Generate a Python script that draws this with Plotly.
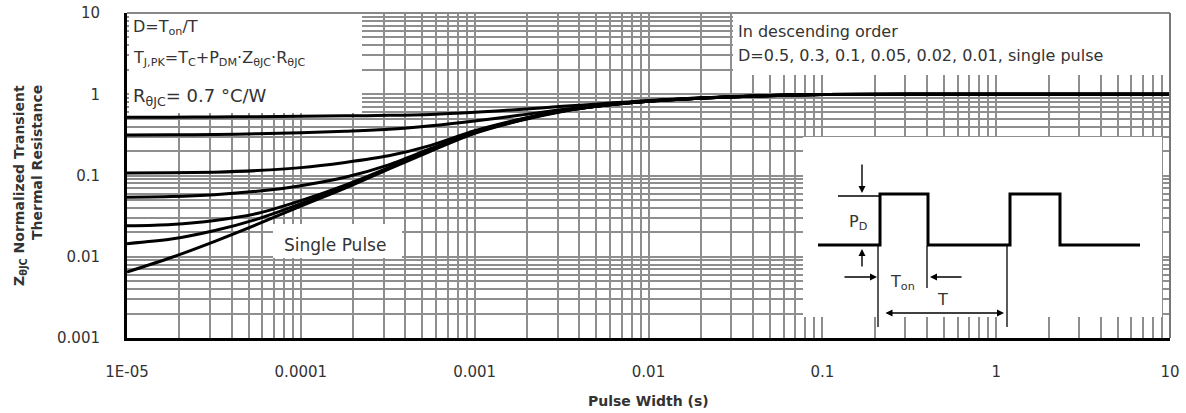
import plotly.graph_objects as go

# ---------------- data ----------------
PULSE_WIDTH = [1e-5, 1.8e-5, 3.2e-5, 5.6e-5, 1e-4, 1.8e-4, 3.2e-4, 5.6e-4, 1e-3,
               1.8e-3, 3.2e-3, 5.6e-3, 1e-2, 3.2e-2, 1e-1, 1, 10]
D_05 = [0.52, 0.522, 0.525, 0.53, 0.535, 0.542, 0.55, 0.565, 0.60,
        0.65, 0.71, 0.77, 0.84, 0.94, 0.99, 1.0, 1.0]
D_03 = [0.315, 0.317, 0.32, 0.326, 0.335, 0.35, 0.37, 0.41, 0.47,
        0.55, 0.65, 0.74, 0.825, 0.935, 0.99, 1.0, 1.0]
D_01 = [0.107, 0.108, 0.11, 0.115, 0.125, 0.145, 0.175, 0.235, 0.355,
        0.49, 0.625, 0.73, 0.82, 0.932, 0.99, 1.0, 1.0]
D_005 = [0.054, 0.055, 0.058, 0.064, 0.075, 0.095, 0.135, 0.215, 0.345,
         0.485, 0.622, 0.73, 0.82, 0.932, 0.99, 1.0, 1.0]
D_002 = [0.024, 0.025, 0.028, 0.034, 0.049, 0.076, 0.125, 0.21, 0.34,
         0.48, 0.62, 0.73, 0.82, 0.93, 0.99, 1.0, 1.0]
D_001 = [0.0145, 0.0165, 0.021, 0.029, 0.045, 0.073, 0.123, 0.205, 0.335,
         0.475, 0.62, 0.73, 0.82, 0.93, 0.99, 1.0, 1.0]
SINGLE = [0.0065, 0.0098, 0.0155, 0.025, 0.042, 0.07, 0.12, 0.2, 0.33,
          0.47, 0.615, 0.73, 0.82, 0.93, 0.99, 1.0, 1.0]
SERIES = {"D=0.5": D_05, "D=0.3": D_03, "D=0.1": D_01, "D=0.05": D_005,
          "D=0.02": D_002, "D=0.01": D_001, "single pulse": SINGLE}

X_TICKS = [1e-5, 1e-4, 1e-3, 1e-2, 1e-1, 1, 10]
X_TICKTEXT = ["1E-05", "0.0001", "0.001", "0.01", "0.1", "1", "10"]
Y_TICKS = [0.001, 0.01, 0.1, 1, 10]
Y_TICKTEXT = ["0.001", "0.01", "0.1", "1", "10"]

# ---------------- layout geometry ----------------
W, H = 1186, 413
L, R, T, B = 127, 16, 13, 75
PW, PH = W - L - R, H - T - B
TXT = "#333333"
FONT = "DejaVu Sans"


def px(x):
    return (x - L) / PW


def py(y):
    return (H - B - y) / PH


fig = go.Figure()
for name, vals in SERIES.items():
    fig.add_trace(go.Scatter(x=PULSE_WIDTH, y=vals, mode="lines", name=name,
                             line=dict(color="black", width=3, shape="spline", smoothing=0.8),
                             showlegend=False))

grid = "#8e8e8e"
fig.update_xaxes(type="log", range=[-5, 1], tickvals=X_TICKS, ticktext=X_TICKTEXT,
                 showgrid=True, gridcolor=grid, gridwidth=1.5, automargin=False,
                 minor=dict(dtick="D1", showgrid=True, gridcolor=grid, gridwidth=1.5, ticks=""),
                 showline=True, linecolor="black", linewidth=3, ticks="",
                 ticklabelstandoff=18, zeroline=False,
                 tickfont=dict(family=FONT, size=15, color=TXT))
fig.update_yaxes(type="log", range=[-3, 1], tickvals=Y_TICKS, ticktext=Y_TICKTEXT,
                 showgrid=True, gridcolor=grid, gridwidth=1.5, automargin=False,
                 minor=dict(dtick="D1", showgrid=True, gridcolor=grid, gridwidth=1.5, ticks=""),
                 showline=True, linecolor="black", linewidth=3, ticks="",
                 ticklabelstandoff=21, zeroline=False,
                 tickfont=dict(family=FONT, size=15, color=TXT))

shapes = []
# white boxes masking the grid
for (x0, y0, x1, y1) in [(129, 14, 362, 113), (733, 14, 1169, 75), (803, 137, 1162, 317),
                         (273, 224, 402, 258)]:
    shapes.append(dict(type="rect", xref="paper", yref="paper", layer="above",
                       x0=px(x0), x1=px(x1), y0=py(y0), y1=py(y1),
                       fillcolor="white", line=dict(width=0)))
# top and right border (thin grey)
shapes.append(dict(type="line", xref="paper", yref="paper", x0=0, x1=1, y0=1, y1=1,
                   line=dict(color="#888", width=2)))
shapes.append(dict(type="line", xref="paper", yref="paper", x0=1, x1=1, y0=0, y1=1,
                   line=dict(color="#777", width=2)))

# inset waveform
wave_x = [818, 880, 880, 928, 928, 1010, 1010, 1060, 1060, 1140]
wave_y = [245, 245, 194, 194, 245, 245, 194, 194, 245, 245]
path = "M " + " L ".join(f"{px(a):.5f},{py(b):.5f}" for a, b in zip(wave_x, wave_y))
shapes.append(dict(type="path", xref="paper", yref="paper", path=path,
                   line=dict(color="black", width=3)))
# thin reference lines of the schematic
for (x0, y0, x1, y1) in [(838, 196, 880, 196), (878, 246, 878, 327), (927, 246, 927, 288),
                         (1007, 246, 1007, 327)]:
    shapes.append(dict(type="line", xref="paper", yref="paper",
                       x0=px(x0), x1=px(x1), y0=py(y0), y1=py(y1),
                       line=dict(color="black", width=1.3)))
fig.update_layout(shapes=shapes)

ann = []


def text(x, y, s, size=15, xanchor="left", bold=False, angle=0, bg=None):
    ann.append(dict(xref="paper", yref="paper", x=px(x), y=py(y), text=f"<b>{s}</b>" if bold else s,
                    showarrow=False, xanchor=xanchor, yanchor="middle", textangle=angle,
                    font=dict(family=FONT, size=size, color=TXT), bgcolor=bg))


def arrow(x, y, ax, ay):
    ann.append(dict(xref="paper", yref="paper", x=px(x), y=py(y), ax=ax, ay=ay, text="",
                    showarrow=True, arrowhead=2, arrowsize=1, arrowwidth=1.4, arrowcolor="black"))


text(131, 28, "D=T<sub>on</sub>/T", size=16)
text(131, 59, "T<sub>J,PK</sub>=T<sub>C</sub>+P<sub>DM</sub>·Z<sub>θJC</sub>·R<sub>θJC</sub>", size=16)
text(131, 97, "R<sub>θJC</sub>= 0.7 °C/W", size=18)
text(736, 32, "In descending order", size=16)
text(736, 55, "D=0.5, 0.3, 0.1, 0.05, 0.02, 0.01, single pulse", size=16)
text(335, 245, "Single Pulse", size=17, xanchor="center")
text(20, 186, "Z<sub>θJC</sub> Normalized Transient", size=14, xanchor="center", bold=True, angle=-90)
text(37, 163, "Thermal Resistance", size=14, xanchor="center", bold=True, angle=-90)
text(648, 401, "Pulse Width (s)", size=14, xanchor="center", bold=True)
text(858, 222, "P<sub>D</sub>", size=16, xanchor="center")
text(902, 282, "T<sub>on</sub>", size=16, xanchor="center")
text(942, 299, "T", size=16, xanchor="center")
arrow(862, 193, 0, -30)
arrow(862, 249, 0, 19)
arrow(877, 277, -34, 0)
arrow(930, 277, 33, 0)
ann.append(dict(xref="paper", yref="paper", x=px(1004), y=py(313), ax=-120, ay=0, text="",
                showarrow=True, arrowhead=2, startarrowhead=2, arrowside="end+start",
                arrowsize=1, arrowwidth=1.4, arrowcolor="black"))
fig.update_layout(annotations=ann)

fig.update_layout(width=W, height=H, margin=dict(l=L, r=R, t=T, b=B, autoexpand=False),
                  paper_bgcolor="white", plot_bgcolor="white",
                  font=dict(family=FONT, color=TXT))
fig.write_html("out.html", config={"displayModeBar": False},
               post_script="document.body.style.margin='0';document.body.style.overflow='hidden';")
